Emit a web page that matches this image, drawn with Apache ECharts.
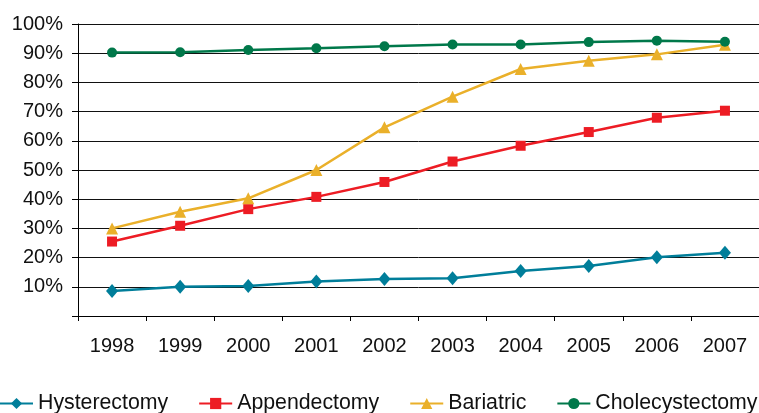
<!DOCTYPE html>
<html>
<head>
<meta charset="utf-8">
<script src="https://cdn.jsdelivr.net/npm/echarts@6/dist/echarts.min.js"></script>
<style>
html,body{margin:0;padding:0;background:#fff;}
#c{width:759px;height:413px;}
</style>
</head>
<body>
<div id="c"></div>
<script>
var years = ['1998','1999','2000','2001','2002','2003','2004','2005','2006','2007'];
var hysterectomy = [8.6, 10.0, 10.3, 11.8, 12.7, 12.9, 15.4, 17.1, 20.1, 21.7];
var appendectomy = [25.5, 30.9, 36.6, 40.8, 45.9, 52.9, 58.3, 63.0, 67.9, 70.3];
var bariatric = [30.0, 35.7, 40.3, 50.0, 64.6, 75.1, 84.6, 87.4, 89.6, 92.9];
var cholecystectomy = [90.2, 90.3, 91.1, 91.7, 92.4, 93.0, 93.0, 93.8, 94.3, 93.9];

var FONT = '"Liberation Sans", Arial, Helvetica, sans-serif';
var chart = echarts.init(document.getElementById('c'));
function s(name, data, color, symbol, size) {
  return {
    name: name, type: 'line', data: data,
    symbol: symbol, symbolSize: size,
    lineStyle: {color: color, width: 2.5},
    itemStyle: {color: color},
    emphasis: {disabled: true},
    animation: false
  };
}
chart.setOption({
  animation: false,
  textStyle: {fontFamily: FONT},
  grid: {left: 78, right: -4, top: 24, bottom: 97, containLabel: false},
  legend: {
    bottom: -1, left: -1, width: 900, padding: 0,
    itemWidth: 33, itemHeight: 14, itemGap: 30,
    textStyle: {fontFamily: FONT, fontSize: 21.3, color: '#111'},
    data: ['Hysterectomy', 'Appendectomy', 'Bariatric', 'Cholecystectomy']
  },
  xAxis: {
    type: 'category', data: years, boundaryGap: true,
    axisLine: {lineStyle: {color: '#000', width: 1}},
    axisTick: {show: true, length: 5, lineStyle: {color: '#000'}, alignWithLabel: false},
    axisLabel: {fontFamily: FONT, fontSize: 20, color: '#111', margin: 20}
  },
  yAxis: {
    type: 'value', min: 0, max: 100, interval: 10,
    axisLine: {show: true, lineStyle: {color: '#000', width: 1}},
    axisTick: {show: true, length: 6, lineStyle: {color: '#000'}},
    splitLine: {show: true, lineStyle: {color: '#111', width: 1}},
    axisLabel: {fontFamily: FONT, fontSize: 20, color: '#111', margin: 15,
      formatter: function(v){ return v === 0 ? '' : v + '%'; }}
  },
  series: [
    s('Hysterectomy', hysterectomy, '#007E9A', 'diamond', [12, 14]),
    s('Appendectomy', appendectomy, '#ED1C24', 'rect', 10),
    s('Bariatric', bariatric, '#EAB02A', 'triangle', 12),
    s('Cholecystectomy', cholecystectomy, '#00784A', 'circle', 10)
  ]
});
</script>
</body>
</html>
